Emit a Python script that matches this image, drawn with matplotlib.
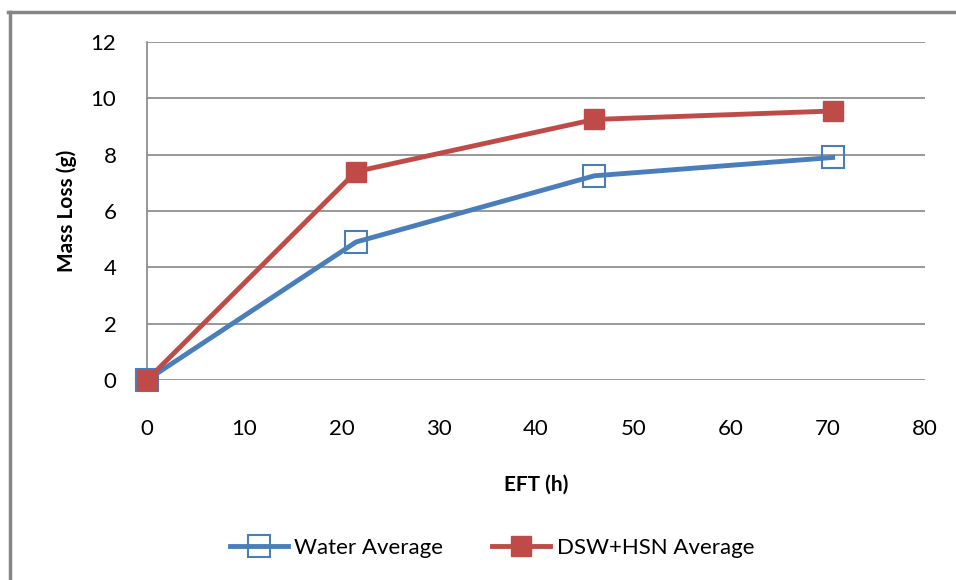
import matplotlib.pyplot as plt
import matplotlib.lines as mlines

plt.rcParams['font.family'] = ['Lato', 'DejaVu Sans']

eft = [0, 21.5, 46, 70.5]
water_avg = [0, 4.9, 7.25, 7.9]
dsw_avg = [0, 7.4, 9.25, 9.55]

W, H = 956, 580
fig = plt.figure(figsize=(W / 100, H / 100), dpi=100)
ax = fig.add_axes([147 / W, 1 - 380 / H, (925 - 147) / W, (380 - 42) / H])

# outer chart frame (only left and top show in the crop)
fig.add_artist(mlines.Line2D([9.5 / W, 9.5 / W], [0, 1 - 12 / H], color='#868686', lw=2.5,
                             transform=fig.transFigure))
fig.add_artist(mlines.Line2D([8 / W, 1], [1 - 12 / H, 1 - 12 / H], color='#868686', lw=2.5,
                             transform=fig.transFigure))

blue = '#4a7ebb'
red = '#be4b48'
ax.plot(eft, water_avg, color=blue, lw=3.5, marker='s', ms=16, mfc='none',
        mec=blue, mew=1.5, label='Water Average', zorder=3)
ax.plot(eft, dsw_avg, color=red, lw=3.5, marker='s', ms=14, mfc=red,
        mec=red, label='DSW+HSN Average', zorder=4)

ax.set_xlim(0, 80)
ax.set_ylim(0, 12)
ax.set_xticks(range(0, 81, 10))
ax.set_yticks(range(0, 13, 2))
ax.grid(axis='y', color='#868686', lw=1.2)
ax.set_axisbelow(True)
for s in ['top', 'right', 'bottom']:
    ax.spines[s].set_visible(False)
ax.spines['left'].set_color('#868686')
ax.spines['left'].set_linewidth(1.2)
ax.tick_params(length=0, labelsize=16)
ax.tick_params(axis='x', pad=28)
ax.tick_params(axis='y', pad=22)
for m in ax.lines:
    m.set_clip_on(False)

ax.set_xlabel('EFT (h)', fontsize=15, fontweight='bold', labelpad=26)
ax.set_ylabel('Mass Loss (g)', fontsize=15, fontweight='bold', labelpad=10)

fig.legend(loc='center', bbox_to_anchor=(492 / W, 1 - 548 / H), ncol=2, frameon=False,
           fontsize=16, handlelength=2.6, columnspacing=2.2, handletextpad=0.3)

fig.savefig('out.png', dpi=100)
